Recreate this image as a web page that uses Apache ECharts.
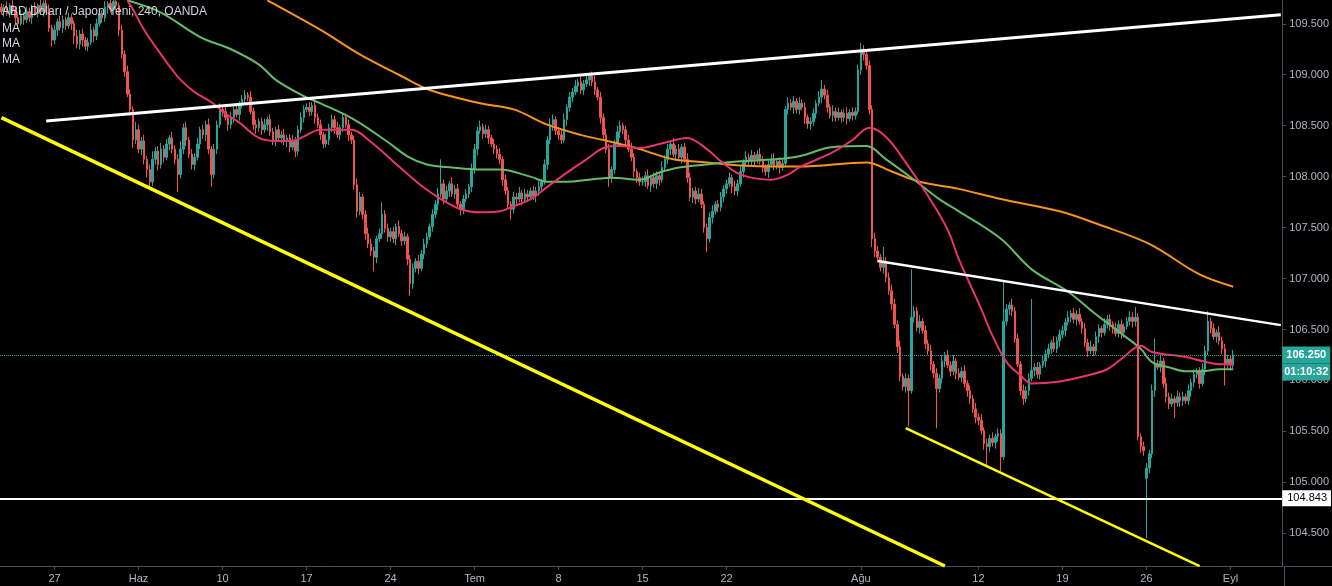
<!DOCTYPE html>
<html><head><meta charset="utf-8">
<script src="https://cdn.jsdelivr.net/npm/echarts@6/dist/echarts.min.js"></script>
<style>html,body{margin:0;padding:0;background:#000;}#c{width:1332px;height:586px;}</style>
</head><body><div id="c"></div>
<script>
// ---- DATA (4h USD/JPY closes, grouped by week) ----
const title = 'ABD Doları / Japon Yeni, 240, OANDA';
const maNames = ['MA', 'MA', 'MA'];
const firstOpen = 109.66;
const pre   = [109.62,109.66,109.60,109.68,109.64,109.56,109.50,109.58,109.54,109.62,109.56,109.66,109.60,109.68,109.62,109.70,109.64,109.46,109.34];
const w0527 = [109.44,109.52,109.46,109.54,109.48,109.56,109.50,109.38,109.30,109.40,109.34,109.28,109.32,109.44,109.38,109.50,109.60,109.56,109.66,109.70,109.64,109.72,109.68,109.44,109.20,109.03,108.81,108.66,108.36,108.46];
const w0603 = [108.27,108.35,108.17,108.07,107.95,108.17,108.25,108.12,108.27,108.19,108.32,108.38,108.27,108.17,108.02,108.27,108.48,108.36,108.22,108.12,108.19,108.32,108.46,108.41,108.51,108.27,108.02,108.27,108.51,108.66];
const w0610 = [108.64,108.58,108.51,108.58,108.66,108.61,108.71,108.76,108.80,108.78,108.64,108.51,108.48,108.54,108.46,108.51,108.56,108.44,108.36,108.46,108.38,108.41,108.35,108.38,108.29,108.36,108.25,108.46,108.58,108.66];
const w0617 = [108.68,108.64,108.70,108.58,108.51,108.41,108.32,108.36,108.48,108.56,108.48,108.41,108.48,108.58,108.51,108.41,108.36,107.92,107.66,107.80,107.63,107.44,107.34,107.27,107.21,107.39,107.44,107.63,107.49,107.41];
const w0624 = [107.46,107.39,107.51,107.44,107.37,107.41,107.19,106.95,107.10,107.17,107.10,107.24,107.34,107.41,107.51,107.63,107.73,107.83,107.93,107.78,107.86,107.93,107.83,107.88,107.73,107.68,107.78,107.83,107.90,108.07];
const w0701 = [108.27,108.45,108.49,108.42,108.46,108.38,108.32,108.27,108.22,108.17,107.97,107.86,107.73,107.68,107.80,107.78,107.84,107.78,107.83,107.80,107.86,107.81,107.86,107.90,107.95,108.12,108.36,108.51,108.56,108.45];
const w0708 = [108.41,108.36,108.56,108.68,108.78,108.83,108.89,108.93,108.85,108.91,108.95,108.99,108.93,108.85,108.78,108.58,108.41,108.27,107.99,108.07,108.32,108.44,108.50,108.46,108.36,108.27,108.19,108.05,107.99,107.95];
const w0715 = [107.95,108.01,107.91,107.99,107.93,108.01,107.97,108.09,108.17,108.27,108.32,108.22,108.27,108.19,108.29,108.17,107.99,107.80,107.86,107.78,107.83,107.73,107.50,107.39,107.60,107.66,107.73,107.70,107.80,107.88];
const w0722 = [107.93,107.99,107.90,107.86,107.93,108.05,108.14,108.19,108.15,108.21,108.17,108.22,108.15,108.09,108.05,108.12,108.17,108.11,108.15,108.09,108.13,108.66,108.72,108.68,108.74,108.66,108.72,108.68,108.58,108.52];
const w0729 = [108.54,108.62,108.72,108.78,108.86,108.80,108.68,108.60,108.64,108.58,108.63,108.58,108.62,108.57,108.63,108.60,108.64,109.05,109.25,109.20,109.09,108.66,107.39,107.27,107.21,107.11,107.17,107.01,106.88,106.75];
const w0805 = [106.55,106.33,106.04,105.94,106.02,105.90,106.62,106.68,106.52,106.58,106.49,106.36,106.29,106.16,106.07,105.92,106.02,106.19,106.25,106.15,106.09,106.19,106.07,106.03,106.09,105.97,105.90,105.82,105.72,105.64];
const w0812 = [105.61,105.51,105.38,105.35,105.43,105.39,105.45,105.48,105.25,106.58,106.70,106.74,106.68,106.41,106.16,105.90,105.82,105.90,106.02,106.10,106.13,106.06,106.15,106.19,106.26,106.31,106.37,106.31,106.39,106.45];
const w0819 = [106.49,106.57,106.62,106.66,106.60,106.65,106.58,106.51,106.37,106.29,106.33,106.29,106.43,106.51,106.47,106.55,106.60,106.55,106.51,106.46,106.55,106.47,106.53,106.58,106.62,106.58,106.62,105.45,105.35,105.31];
const w0826 = [105.14,105.28,105.90,106.16,106.13,106.19,105.97,105.84,105.77,105.82,105.78,105.84,105.80,105.84,105.80,105.90,105.98,106.06,106.09,105.97,106.11,106.29,106.58,106.51,106.43,106.47,106.39,106.31,106.16,106.21];
const w0902 = [106.15,106.25];
// opens that differ from the previous close (weekend gap)
const gapOpens = [[409, 105.04]];
// upper / lower wick lengths beyond the body, in hundredths of a yen
const hiPre = [4,3,6,2,5,3,4,6,3,5,4,3,5,2,6,3,4,5,3];
const loPre = [3,5,2,4,3,6,4,2,5,3,4,6,2,4,3,5,3,4,6];
const hi0527 = [5,3,6,4,3,5,4,3,6,4,5,3,4,6,3,5,4,3,6,2,5,3,4,3,5,4,6,5,3,8];
const lo0527 = [4,6,3,5,4,3,6,8,4,5,6,4,5,3,6,4,3,5,4,6,3,5,4,6,4,5,3,6,8,4];
const hi0603 = [5,4,6,3,5,8,4,5,6,4,5,3,6,4,5,8,4,6,3,5,4,6,3,5,4,6,3,5,4,6];
const lo0603 = [4,6,5,8,7,4,5,6,4,5,3,6,4,5,17,4,5,6,4,5,6,3,5,4,6,5,12,4,5,3];
const hi0610 = [4,5,3,6,4,5,3,4,5,3,6,4,5,3,4,6,3,5,4,3,5,4,6,3,4,5,3,4,5,4];
const lo0610 = [5,3,6,4,5,3,6,4,5,4,3,5,6,4,5,3,6,4,5,6,3,5,4,6,5,3,6,4,3,5];
const hi0617 = [4,5,3,6,4,5,3,6,4,5,4,6,3,5,4,5,3,4,6,5,3,4,6,5,4,3,5,12,4,5];
const lo0617 = [3,5,4,6,3,5,4,3,5,4,6,3,5,4,3,6,4,5,6,4,5,6,4,5,14,6,3,5,4,5];
const hi0624 = [4,5,3,6,4,5,3,4,5,3,6,4,5,4,3,5,4,6,24,4,5,3,6,4,5,3,4,5,3,6];
const lo0624 = [5,4,6,3,5,4,6,12,5,4,6,3,5,4,3,5,4,6,3,5,4,6,3,5,4,6,5,3,4,5];
const hi0701 = [5,4,6,3,5,4,3,5,4,6,3,5,4,3,5,4,6,3,5,4,3,5,4,6,3,5,4,6,5,3];
const lo0701 = [4,6,3,5,4,6,3,5,4,5,6,4,5,10,4,5,3,6,4,5,3,4,6,5,4,3,5,4,6,4];
const hi0708 = [4,5,6,3,5,4,6,3,5,4,5,3,4,6,3,5,4,6,5,3,4,6,5,3,4,5,6,4,3,5];
const lo0708 = [5,4,3,6,4,5,3,6,4,5,3,6,4,5,3,6,5,4,9,5,4,3,6,4,5,3,4,6,5,4];
const hi0715 = [5,4,6,3,5,4,3,6,4,5,3,6,4,5,3,4,6,5,3,4,6,5,3,4,5,6,3,4,5,4];
const lo0715 = [4,5,3,6,4,5,6,3,4,5,6,3,5,4,6,3,5,4,6,5,3,4,5,13,4,6,3,5,4,5];
const hi0722 = [4,5,3,6,4,5,3,6,4,5,3,4,6,5,3,4,5,6,3,4,5,3,6,4,5,3,6,4,5,3];
const lo0722 = [5,3,6,4,5,3,6,4,3,5,6,4,3,5,4,6,3,5,4,6,3,4,5,3,6,4,5,3,6,5];
const hi0729 = [4,5,3,6,9,4,5,3,6,4,5,3,4,6,3,5,4,5,6,4,3,5,4,6,5,3,14,4,5,6];
const lo0729 = [6,4,5,3,6,4,5,3,6,4,3,5,4,6,3,5,4,3,5,6,4,5,8,6,5,4,6,5,4,6];
const hi0805 = [5,4,6,3,5,4,47,5,4,6,3,5,4,6,3,5,4,6,3,5,4,6,3,5,4,6,3,5,4,6];
const lo0805 = [4,6,5,4,6,35,3,5,4,6,3,5,4,6,5,39,4,5,6,3,5,4,6,3,5,4,6,5,4,6];
const hi0812 = [4,6,3,5,4,6,3,5,4,40,5,3,6,4,5,3,6,4,5,70,4,5,3,6,4,5,3,6,4,5];
const lo0812 = [5,4,6,18,5,4,6,5,14,3,4,6,5,4,3,5,6,4,5,3,6,4,5,3,6,4,5,3,4,6];
const hi0819 = [5,4,6,3,5,4,6,3,5,4,6,3,5,4,3,6,4,5,3,6,4,5,3,4,6,5,10,4,3,5];
const lo0819 = [4,6,3,5,4,6,3,5,4,6,3,5,4,6,5,3,4,6,5,3,4,6,5,3,4,6,5,4,6,5];
const hi0826 = [5,4,6,25,4,5,3,6,4,5,3,6,4,5,3,6,4,5,3,4,6,5,10,4,5,3,6,4,5,4];
const lo0826 = [59,5,4,6,3,5,4,6,5,3,15,4,6,5,3,4,6,5,4,5,3,6,4,5,3,6,4,5,21,4];
const hi0902 = [4,5];
const lo0902 = [5,3];
// moving averages: [bar index, price]
const maFast = [[45,109.73],[47,109.64],[51,109.44],[57,109.20],[61,109.05],[64,108.95],[69,108.83],[75,108.73],[80,108.62],[85,108.53],[92,108.38],[98,108.35],[104,108.35],[107,108.38],[114,108.46],[125,108.46],[132,108.34],[142,108.10],[150,107.91],[157,107.78],[164,107.68],[171,107.65],[178,107.66],[183,107.71],[189,107.78],[195,107.90],[202,108.04],[209,108.17],[216,108.29],[221,108.30],[228,108.28],[235,108.32],[245,108.38],[252,108.27],[257,108.15],[264,108.02],[275,107.97],[281,108.02],[285,108.09],[297,108.24],[304,108.36],[310,108.48],[316,108.39],[323,108.14],[331,107.81],[338,107.48],[342,107.19],[350,106.70],[354,106.44],[359,106.18],[364,106.05],[368,105.97],[378,105.99],[388,106.05],[395,106.11],[400,106.21],[407,106.34],[411,106.28],[423,106.23],[429,106.19],[435,106.16],[440,106.16]];
const maMid = [[45,109.73],[57,109.61],[71,109.37],[82,109.25],[92,109.10],[98,108.95],[108,108.79],[114,108.72],[126,108.56],[138,108.34],[145,108.20],[152,108.12],[161,108.09],[171,108.07],[178,108.07],[189,108.00],[195,107.95],[202,107.95],[210,107.97],[218,107.99],[228,107.97],[235,108.04],[242,108.09],[252,108.12],[264,108.15],[276,108.17],[285,108.20],[297,108.29],[309,108.30],[316,108.17],[326,107.97],[335,107.78],[342,107.66],[357,107.39],[368,107.09],[381,106.87],[390,106.67],[400,106.46],[407,106.31],[411,106.18],[417,106.13],[423,106.09],[429,106.09],[435,106.11],[440,106.11]];
const maSlow = [[95,109.73],[114,109.44],[128,109.20],[142,109.00],[153,108.85],[171,108.72],[183,108.66],[195,108.51],[207,108.41],[218,108.34],[228,108.27],[240,108.17],[252,108.14],[264,108.11],[276,108.10],[285,108.10],[309,108.14],[318,108.05],[328,107.95],[342,107.88],[357,107.78],[378,107.66],[392,107.53],[410,107.34],[428,107.04],[440,106.92]];
// drawn trend lines: [bar index, price] end points
const whiteUpper = [[16,108.546],[457,109.588]];
const whiteLower = [[313,107.172],[457,106.543]];
const yellowBig  = [[0,108.579],[337,104.179]];
const yellowSmall= [[323,105.533],[428,104.179]];
const levelLine = 104.843;
const countdown = '01:10:32';
// axis ticks
const tickIdx  = [19,49,79,109,139,169,199,229,259,307,349,379,409,439];
const tickText = ['27','Haz','10','17','24','Tem','8','15','22','Ağu','12','19','26','Eyl'];
const priceTicks = [104.5,105.0,105.5,106.0,106.5,107.0,107.5,108.0,108.5,109.0,109.5];
const nSlots = 458;

// ---- BUILD ----
const closes = [].concat(pre,w0527,w0603,w0610,w0617,w0624,w0701,w0708,w0715,w0722,w0729,w0805,w0812,w0819,w0826,w0902);
const hiX = [].concat(hiPre,hi0527,hi0603,hi0610,hi0617,hi0624,hi0701,hi0708,hi0715,hi0722,hi0729,hi0805,hi0812,hi0819,hi0826,hi0902);
const loX = [].concat(loPre,lo0527,lo0603,lo0610,lo0617,lo0624,lo0701,lo0708,lo0715,lo0722,lo0729,lo0805,lo0812,lo0819,lo0826,lo0902);
const gapMap = new Map(gapOpens);
const candles = closes.map((c, i) => {
  let o = i === 0 ? firstOpen : closes[i - 1];
  if (gapMap.has(i)) o = gapMap.get(i);
  const h = Math.max(o, c) + hiX[i] / 100;
  const l = Math.min(o, c) - loX[i] / 100;
  return [o, c, +l.toFixed(3), +h.toFixed(3)];
});
const lastClose = closes[closes.length - 1];
const cats = Array.from({length: nSlots}, (_, i) => String(i));
const tickSet = new Set(tickIdx);
const tickMap = {}; tickIdx.forEach((t, k) => tickMap[t] = tickText[k]);

// layout (pixels)
const plotW = 1284, plotH = 566;
const pxPerYen = 101.9, y1095 = 23.8;
const pTop = 109.5 + y1095 / pxPerYen;
const pBot = 109.5 - (plotH - y1095) / pxPerYen;

const axisCol = '#4a4e58', txtCol = '#b2b5be';
const FONT = 'Liberation Sans';
const up = '#26a69a', down = '#ef5350';

function trend(data, color, width) {
  return {type: 'line', data, symbol: 'none', silent: true, z: 6, lineStyle: {color, width}};
}
function ma(data, color) {
  return {type: 'line', data, symbol: 'none', smooth: 0.35, silent: true, z: 4, lineStyle: {color, width: 2}};
}

const chart = echarts.init(document.getElementById('c'), null, {renderer: 'canvas'});
chart.setOption({
  backgroundColor: '#000',
  animation: false,
  grid: {left: 0, top: 0, width: plotW, height: plotH},
  xAxis: {type: 'category', data: cats, boundaryGap: true,
    axisLine: {lineStyle: {color: axisCol, width: 1}},
    axisTick: {show: true, alignWithLabel: true, interval: (i) => tickSet.has(i), length: 4, lineStyle: {color: axisCol}},
    axisLabel: {interval: (i) => tickSet.has(i), formatter: (v) => tickMap[+v] || '', color: txtCol, fontSize: 11, fontFamily: FONT, margin: 7},
    splitLine: {show: false}},
  yAxis: {type: 'value', min: pBot, max: pTop, position: 'right',
    axisLine: {show: true, lineStyle: {color: axisCol}},
    axisTick: {show: true, length: 4, customValues: priceTicks, lineStyle: {color: axisCol}},
    axisLabel: {color: txtCol, fontSize: 11, fontFamily: FONT, margin: 7, customValues: priceTicks,
      formatter: (v) => (+v).toFixed(3)},
    splitLine: {show: false}},
  series: [
    {type: 'candlestick', data: candles, barWidth: 2, z: 3,
      itemStyle: {color: up, color0: down, borderColor: up, borderColor0: down, borderWidth: 1},
      markLine: {symbol: ['none', 'none'], silent: true, animation: false, precision: 3,
        data: [
          {yAxis: lastClose, lineStyle: {color: up, type: 'dotted', width: 1},
            label: {show: true, position: 'end', distance: 0,
              formatter: '{e| }\n{a|' + lastClose.toFixed(3) + '}\n{b|' + countdown + '}',
              rich: {
                e: {height: 17, lineHeight: 17, fontSize: 11},
                a: {width: 44, height: 17, lineHeight: 17, align: 'center', backgroundColor: up, color: '#fff', fontSize: 11, fontWeight: 'bold', fontFamily: FONT, padding: [0, 2]},
                b: {width: 44, height: 17, lineHeight: 17, align: 'center', backgroundColor: up, color: '#fff', fontSize: 11, fontWeight: 'bold', fontFamily: FONT, padding: [0, 2]}
              }}},
          {yAxis: levelLine, lineStyle: {color: '#ffffff', type: 'solid', width: 2},
            label: {show: true, position: 'end', distance: 0, formatter: levelLine.toFixed(3),
              color: '#000', backgroundColor: '#ffffff', padding: [3, 4, 2, 5], fontSize: 11, fontFamily: FONT}}
        ]}},
    ma(maSlow, '#f7931e'),
    ma(maMid, '#66bb6a'),
    ma(maFast, '#e8336b'),
    trend(whiteUpper, '#ffffff', 3),
    trend(whiteLower, '#ffffff', 2.5),
    trend(yellowBig, '#ffff00', 3.5),
    trend(yellowSmall, '#ffff00', 2.5)
  ],
  graphic: [
    {type: 'text', left: 2, top: 6, z: 100, style: {text: title, fill: '#d1d4dc', fontSize: 12, fontFamily: FONT}},
    {type: 'text', left: 2, top: 23, z: 100, style: {text: maNames[0], fill: '#d1d4dc', fontSize: 12, fontFamily: FONT}},
    {type: 'text', left: 2, top: 38, z: 100, style: {text: maNames[1], fill: '#d1d4dc', fontSize: 12, fontFamily: FONT}},
    {type: 'text', left: 2, top: 54, z: 100, style: {text: maNames[2], fill: '#d1d4dc', fontSize: 12, fontFamily: FONT}},
    {type: 'line', z: 1, silent: true, shape: {x1: plotW, y1: plotH + 0.5, x2: 1332, y2: plotH + 0.5}, style: {stroke: axisCol, lineWidth: 1}},
    {type: 'line', z: 1, silent: true, shape: {x1: plotW + 0.5, y1: plotH, x2: plotW + 0.5, y2: 586}, style: {stroke: axisCol, lineWidth: 1}}
  ]
});
</script>
</body></html>
